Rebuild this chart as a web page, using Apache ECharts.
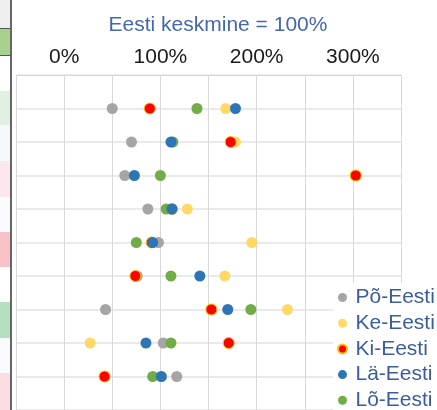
<!DOCTYPE html>
<html>
<head>
<meta charset="utf-8">
<title></title>
<style>
  body { margin: 0; background: #fff; }
</style>
</head>
<body>
<div id="container" style="width: 437px;height:410px;"></div>
<script src="https://cdn.jsdelivr.net/npm/echarts@6/dist/echarts.min.js"></script>
<script type="text/javascript">
'use strict'

// rows 1..9, percent of the Estonian average
var rows = [1, 2, 3, 4, 5, 6, 7, 8, 9];
var xTicks = [0, 100, 200, 300];
var poEesti = [50, 70, 63, 87, 98, 76, 43, 103, 117];
var keEesti = [168, 178, 302, 128, 195, 167, 232, 27, 101];
var kiEesti = [89, 173, 303, 112, 91, 74, 153, 171, 42];
var laEesti = [178, 111, 73, 112, 92, 141, 170, 85, 101];
var loEesti = [138, 113, 100, 106, 75, 111, 194, 111, 92];

function pairs(vals) {
	return vals.map(function (v, i) { return [v, rows[i]]; });
}

var myCharts = echarts.init(document.getElementById('container'));

// left strip of table cells (part of the screenshot)
var strip = [
	[0, 28, '#efefef'], [29, 26, '#a9d18e'], [56, 35, '#ffffff'],
	[91, 34, '#e2f0e3'], [125, 36, '#f5f9fc'], [161, 36, '#fce8ec'],
	[197, 35, '#f8fafd'], [232, 35, '#f8c3c8'], [267, 35, '#ffffff'],
	[302, 36, '#b4dfc0'], [338, 35, '#f8fafd'], [373, 37, '#fbdde3']
];
var graphics = strip.map(function (c) {
	return { type: 'rect', shape: { x: 0, y: c[0], width: 10, height: c[1] }, style: { fill: c[2] }, silent: true };
});
graphics.push({ type: 'line', shape: { x1: 0, y1: 28.5, x2: 10, y2: 28.5 }, style: { stroke: '#555', lineWidth: 1 } });
graphics.push({ type: 'line', shape: { x1: 0, y1: 55.5, x2: 10, y2: 55.5 }, style: { stroke: '#555', lineWidth: 1 } });
graphics.push({ type: 'line', shape: { x1: 11, y1: 0, x2: 11, y2: 410 }, style: { stroke: '#333', lineWidth: 1.5 } });

var sym = 11;
var option = {
	animation: false,
	title: {
		text: 'Eesti keskmine = 100%',
		left: 213,
		textAlign: 'center',
		top: 10,
		textStyle: { color: '#4468ae', fontSize: 21, fontWeight: 'normal', fontFamily: 'Liberation Sans' }
	},
	graphic: graphics,
	legend: {
		orient: 'vertical',
		left: 333,
		top: 283,
		height: 200,
		padding: [4, 0, 0, 4],
		backgroundColor: '#ffffff',
		itemWidth: 16,
		itemHeight: 9,
		itemGap: 4.7,
		icon: 'circle',
		textStyle: { color: '#3a5da0', fontSize: 21, lineHeight: 20, fontFamily: 'Liberation Sans' },
		data: ['Põ-Eesti', 'Ke-Eesti', 'Ki-Eesti', 'Lä-Eesti', 'Lõ-Eesti']
	},
	grid: { left: 16, right: 36, top: 75, height: 344 },
	xAxis: {
		type: 'value',
		position: 'top',
		min: -50,
		max: 350,
		interval: 50,
		axisLine: { show: true, lineStyle: { color: '#d9d9d9' } },
		axisTick: { show: false },
		splitLine: { lineStyle: { color: '#d9d9d9' } },
		axisLabel: {
			margin: 7,
			color: '#1a1a1a',
			fontSize: 21,
			fontFamily: 'Liberation Sans',
			formatter: function (v) { return xTicks.indexOf(v) >= 0 ? v + '%' : ''; }
		}
	},
	yAxis: {
		type: 'value',
		inverse: true,
		min: 0,
		max: 10,
		interval: 1,
		axisLine: { show: true, lineStyle: { color: '#d9d9d9' } },
		axisTick: { show: false },
		axisLabel: { show: false },
		splitLine: { lineStyle: { color: '#e3e3e3', width: 1.5 } }
	},
	series: [
		{ name: 'Põ-Eesti', type: 'scatter', symbolSize: sym, itemStyle: { color: '#a5a5a5', opacity: 1 }, data: pairs(poEesti) },
		{ name: 'Ke-Eesti', type: 'scatter', symbolSize: sym, itemStyle: { color: '#ffd966', opacity: 1 }, data: pairs(keEesti) },
		{ name: 'Ki-Eesti', type: 'scatter', symbolSize: sym, itemStyle: { color: '#ff0000', borderColor: '#ffc000', borderWidth: 1, opacity: 1 }, data: pairs(kiEesti) },
		{ name: 'Lõ-Eesti', type: 'scatter', symbolSize: sym, itemStyle: { color: '#70ad47', opacity: 1 }, data: pairs(loEesti) },
		{ name: 'Lä-Eesti', type: 'scatter', symbolSize: sym, itemStyle: { color: '#2e75b6', opacity: 1 }, data: pairs(laEesti) }
	]
};
myCharts.setOption(option);
</script>
</body>
</html>
